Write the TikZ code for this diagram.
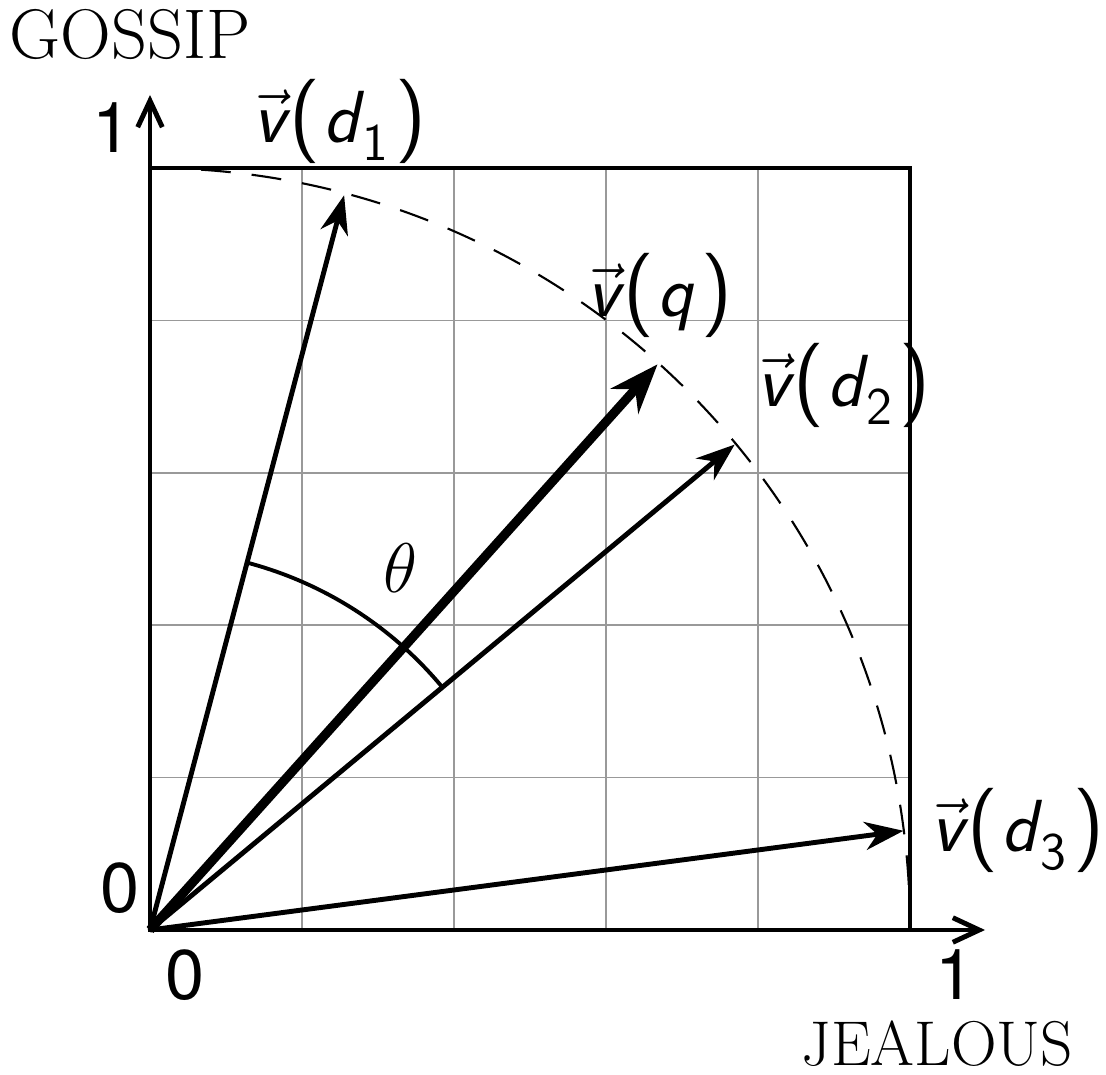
\documentclass[tikz,border=0pt]{standalone}
\usepackage{fix-cm}
\usepackage{fontspec}
\newfontfamily\hv{TeX Gyre Heros}
\usetikzlibrary{arrows.meta}
\newcommand\vv{$\vec{\hbox{\sffamily\itshape v}}$}
\newcommand\sub[1]{\raisebox{-0.25em}{\fontsize{15}{17}\selectfont #1}}
\newcommand\lp{{\fontsize{24}{28}\selectfont(}}
\newcommand\rp{{\fontsize{24}{28}\selectfont)}}
\tikzset{
  lbl/.style={font=\sffamily\fontsize{21}{25}\selectfont, inner sep=0pt},
  numlbl/.style={font=\hv\fontsize{20}{24}\selectfont, inner sep=0pt},
  vecarrow/.style={line width=1.4pt, -{Stealth[length=11pt,width=8pt,inset=3.5pt]}},
  qarrow/.style={line width=2.6pt, -{Stealth[length=14pt,width=10.5pt,inset=4.5pt]}},
  axis/.style={line width=1.4pt, -{Straight Barb[length=7.5pt,width=7pt]}},
}
\begin{document}
\begin{tikzpicture}[x=7.6cm,y=7.62cm]
\useasboundingbox (-1.50cm,-1.44cm) rectangle (9.56cm,9.30cm);
\coordinate (O) at (0,0);
% grid
\draw[gray!80, line width=0.5pt] (0,0) grid[step=0.2] (1,1);
% dashed unit arc
\draw[line width=0.6pt, dash pattern=on 8.5pt off 6pt] (0,1) arc[start angle=90, end angle=0, radius=7.6cm];
% box
\draw[line width=1.4pt] (0,0) rectangle (1,1);
% axes
\coordinate (xend) at (8.35cm,0);
\coordinate (yend) at (0,8.35cm);
\draw[axis] (O) -- (xend);
\draw[axis] (O) -- (yend);
% vectors
\coordinate (d1) at (75.2:7.6cm);
\coordinate (q) at (48.1:7.6cm);
\coordinate (d2) at (39.7:7.6cm);
\coordinate (d3) at (7.5:7.6cm);
\draw[vecarrow] (O) -- (d1);
\draw[vecarrow] (O) -- (d2);
\draw[vecarrow] (O) -- (d3);
\draw[qarrow] (O) -- (q);
% theta arc
\draw[line width=1.1pt] (75.2:3.8cm) arc[start angle=75.2, end angle=39.7, radius=3.8cm];
\node[font=\fontsize{20}{24}\selectfont, inner sep=0pt] (theta) at (2.50cm,3.62cm) {$\theta$};
% labels
\node[lbl] (l1) at (1.90cm,8.09cm) {\vv\kern1pt\lp\kern1pt\textit{d}\kern-0.5pt\sub{1}\kern2pt\rp};
\node[lbl] (lq) at (5.10cm,6.35cm) {\vv\kern1pt\lp\kern1pt\textit{q}\kern2pt\rp};
\node[lbl] (l2) at (6.94cm,5.45cm) {\vv\kern1pt\lp\kern1pt\textit{d}\kern-0.5pt\sub{2}\kern2pt\rp};
\node[lbl] (l3) at (8.68cm,1.00cm) {\vv\kern1pt\lp\kern1pt\textit{d}\kern-0.5pt\sub{3}\kern2pt\rp};
\node[numlbl] (y1) at (-0.38cm,8.02cm) {1};
\node[numlbl] (y0) at (-0.30cm,0.42cm) {0};
\node[numlbl] (x0) at (0.35cm,-0.45cm) {0};
\node[numlbl] (x1) at (8.05cm,-0.45cm) {1};
\node[font=\fontsize{20}{24}\selectfont, inner sep=0pt] (gossip) at (-0.20cm,8.95cm) {GOSSIP};
\node[font=\fontsize{18}{21}\selectfont, inner sep=0pt] (jealous) at (7.87cm,-1.14cm) {JEALOUS};
\end{tikzpicture}
\end{document}
